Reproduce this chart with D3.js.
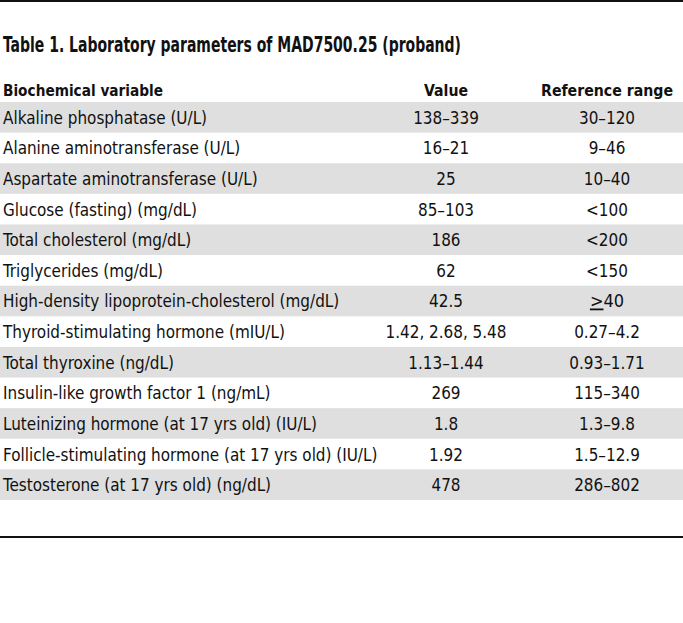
<!DOCTYPE html>
<html>
<head>
<meta charset="utf-8">
<script src="https://cdn.jsdelivr.net/npm/d3@7"></script>
<style>
  body { margin: 0; background: #fff; }
  text { font-family: "Liberation Sans Narrow", "DejaVu Sans Condensed", sans-serif; fill: #111; }
</style>
</head>
<body>
<div id="chart-container"></div>
<script>
const title = "Table 1. Laboratory parameters of MAD7500.25 (proband)";
const headers = ["Biochemical variable", "Value", "Reference range"];
const variables = [
  "Alkaline phosphatase (U/L)",
  "Alanine aminotransferase (U/L)",
  "Aspartate aminotransferase (U/L)",
  "Glucose (fasting) (mg/dL)",
  "Total cholesterol (mg/dL)",
  "Triglycerides (mg/dL)",
  "High-density lipoprotein-cholesterol (mg/dL)",
  "Thyroid-stimulating hormone (mIU/L)",
  "Total thyroxine (ng/dL)",
  "Insulin-like growth factor 1 (ng/mL)",
  "Luteinizing hormone (at 17 yrs old) (IU/L)",
  "Follicle-stimulating hormone (at 17 yrs old) (IU/L)",
  "Testosterone (at 17 yrs old) (ng/dL)"
];
const values = ["138\u2013339", "16\u201321", "25", "85\u2013103", "186", "62", "42.5",
  "1.42, 2.68, 5.48", "1.13\u20131.44", "269", "1.8", "1.92", "478"];
const ranges = ["30\u2013120", "9\u201346", "10\u201340", "<100", "<200", "<150", ">40",
  "0.27\u20134.2", "0.93\u20131.71", "115\u2013340", "1.3\u20139.8", "1.5\u201312.9", "286\u2013802"];

const width = 683, height = 623;
const svg = d3.select("#chart-container").append("svg")
  .attr("width", width).attr("height", height);

const y = d3.scaleBand().domain(d3.range(variables.length)).range([102, 500]);
const colX = [3, 446, 607];
const headerLen = [160, 44, 132];

// squeeze a text horizontally, the reference face is narrower than DejaVu Condensed
function squeeze(sel, k) {
  sel.each(function () {
    const len = this.getComputedTextLength();
    d3.select(this).attr("textLength", len * k).attr("lengthAdjust", "spacingAndGlyphs");
  });
}

// top rule
svg.append("rect").attr("x", 0).attr("y", 0).attr("width", width).attr("height", 2).attr("fill", "#111");

svg.append("text").attr("x", 3).attr("y", 52)
  .attr("font-size", 22).attr("font-weight", "bold")
  .attr("textLength", 458).attr("lengthAdjust", "spacingAndGlyphs")
  .text(title);

svg.selectAll(".hdr").data(headers).join("text")
  .attr("class", "hdr")
  .attr("x", (d, i) => colX[i])
  .attr("y", 96)
  .attr("text-anchor", (d, i) => i ? "middle" : "start")
  .attr("font-size", 16.5).attr("font-weight", "bold")
  .attr("textLength", (d, i) => headerLen[i]).attr("lengthAdjust", "spacingAndGlyphs")
  .text(d => d);

const rows = svg.selectAll(".row").data(variables).join("g")
  .attr("class", "row")
  .attr("transform", (d, i) => `translate(0,${y(i)})`);

rows.append("rect")
  .attr("width", width).attr("height", y.bandwidth())
  .attr("fill", (d, i) => i % 2 === 0 ? "#dfdfdf" : "none");

const mid = y.bandwidth() / 2 + 6.5;
rows.append("text").attr("x", colX[0]).attr("y", mid).attr("font-size", 18)
  .text(d => d).call(squeeze, 0.94);
rows.append("text").attr("x", colX[1]).attr("y", mid).attr("font-size", 18)
  .attr("text-anchor", "middle").text((d, i) => values[i]).call(squeeze, 0.94);
rows.append("text").attr("x", colX[2]).attr("y", mid).attr("font-size", 18)
  .attr("text-anchor", "middle")
  .each(function (d, i) {
    const t = d3.select(this);
    const r = ranges[i];
    if (r.startsWith(">")) {
      t.append("tspan").style("text-decoration", "underline").text(">");
      t.append("tspan").text(r.slice(1));
    } else t.text(r).call(squeeze, 0.94);
  });

// bottom rule
svg.append("rect").attr("x", 0).attr("y", 536).attr("width", width).attr("height", 2).attr("fill", "#111");
</script>
</body>
</html>
